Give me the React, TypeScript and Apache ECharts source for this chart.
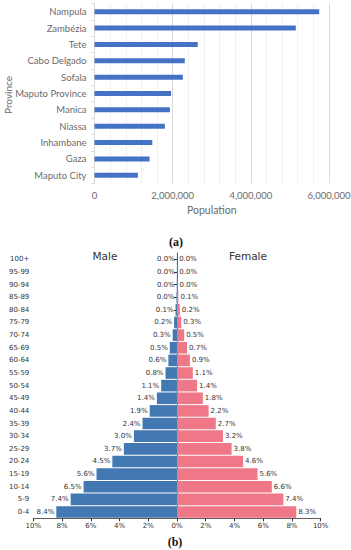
import React, { useEffect, useRef } from "react";
import * as echarts from "echarts";

const provinces = [
  "Nampula", "Zambézia", "Tete", "Cabo Delgado", "Sofala", "Maputo Province",
  "Manica", "Niassa", "Inhambane", "Gaza", "Maputo City",
];
const provincePopulation = [
  5750000, 5150000, 2640000, 2310000, 2260000, 1960000,
  1930000, 1800000, 1480000, 1410000, 1110000,
];
const populationTicks = [0, 2000000, 4000000, 6000000];

const ageGroups = [
  "100+", "95-99", "90-94", "85-89", "80-84", "75-79", "70-74", "65-69", "60-64",
  "55-59", "50-54", "45-49", "40-44", "35-39", "30-34", "25-29", "20-24", "15-19",
  "10-14", "5-9", "0-4",
];
const malePct = [
  0.01, 0.01, 0.02, 0.04, 0.1, 0.2, 0.3, 0.5, 0.6, 0.8, 1.1, 1.4, 1.9, 2.4, 3.0,
  3.7, 4.5, 5.6, 6.5, 7.4, 8.4,
];
const femalePct = [
  0.01, 0.02, 0.04, 0.1, 0.2, 0.3, 0.5, 0.7, 0.9, 1.1, 1.4, 1.8, 2.2, 2.7, 3.2,
  3.8, 4.6, 5.6, 6.6, 7.4, 8.3,
];
const pctTicks = [-10, -8, -6, -4, -2, 0, 2, 4, 6, 8, 10];

const GOTHIC = "Lato, 'Open Sans', sans-serif";
const DEJAVU = "'DejaVu Sans', sans-serif";

export default function App() {
  const ref = useRef<HTMLDivElement>(null);
  useEffect(() => {
    document.body.style.margin = "0";
    const chart = echarts.init(ref.current!, null, { renderer: "svg" });
    const fmtPop = (v: number) => v.toLocaleString("en-US");
    chart.setOption({
      animation: false,
      backgroundColor: "#ffffff",
      grid: [
        { left: 94.5, right: 22, top: 3.5, height: 180, containLabel: false, outerBoundsMode: "none" },
        { left: 33.3, right: 30.3, top: 253, height: 265.3, containLabel: false, outerBoundsMode: "none" },
      ],
      xAxis: [
        {
          gridIndex: 0,
          type: "value",
          min: populationTicks[0],
          max: populationTicks[populationTicks.length - 1],
          interval: 2000000,
          name: "Population",
          nameLocation: "middle",
          nameGap: 21,
          nameTextStyle: { color: "#6b6b6b", fontSize: 10.5, fontFamily: GOTHIC },
          axisLine: { show: false },
          axisTick: { show: false },
          axisLabel: { color: "#6b6b6b", fontSize: 9.5, fontFamily: GOTHIC, formatter: fmtPop, margin: 7 },
          splitLine: { show: true, lineStyle: { color: "#d9d9d9", width: 1 } },
          minorTick: { show: false, splitNumber: 5 },
          minorSplitLine: { show: true, lineStyle: { color: "#f0f0f0", width: 1 } },
        },
        {
          gridIndex: 1,
          type: "value",
          min: pctTicks[0],
          max: pctTicks[pctTicks.length - 1],
          interval: 2,
          axisLine: { show: true, lineStyle: { color: "#333333", width: 0.8 } },
          axisTick: { show: true, length: 3, lineStyle: { color: "#333333" } },
          axisLabel: {
            color: "#333333", fontSize: 7, fontFamily: DEJAVU, margin: 4,
            formatter: (v: number) => Math.abs(v) + "%",
          },
          splitLine: { show: false },
        },
      ],
      yAxis: [
        {
          gridIndex: 0,
          type: "category",
          data: provinces,
          inverse: true,
          axisLine: { show: true, lineStyle: { color: "#d9d9d9" } },
          axisTick: { show: true, length: 3, lineStyle: { color: "#d9d9d9" } },
          axisLabel: { color: "#6b6b6b", fontSize: 9.5, fontFamily: GOTHIC, margin: 8 },
        },
        {
          gridIndex: 1,
          type: "category",
          data: ageGroups,
          inverse: true,
          axisLine: { show: true, lineStyle: { color: "#333333", width: 0.8 } },
          axisTick: { show: true, length: 3, alignWithLabel: true, lineStyle: { color: "#333333" } },
          axisLabel: { color: "#333333", fontSize: 7, fontFamily: DEJAVU, margin: 4 },
        },
      ],
      series: [
        {
          type: "bar",
          xAxisIndex: 0,
          yAxisIndex: 0,
          data: provincePopulation,
          barWidth: 5,
          itemStyle: { color: "#4472c4" },
        },
        {
          name: "Male",
          type: "bar",
          xAxisIndex: 1,
          yAxisIndex: 1,
          stack: "pop",
          data: malePct.map((v) => -v),
          barCategoryGap: "8%",
          itemStyle: { color: "#4379b2" },
          label: {
            show: true,
            position: "left",
            distance: 2,
            fontSize: 7,
            fontFamily: DEJAVU,
            color: "#333333",
            formatter: (p: any) => Math.abs(p.value).toFixed(1) + "%",
          },
        },
        {
          name: "Female",
          type: "bar",
          xAxisIndex: 1,
          yAxisIndex: 1,
          stack: "pop",
          data: femalePct,
          barCategoryGap: "8%",
          itemStyle: { color: "#ef7888" },
          label: {
            show: true,
            position: "right",
            distance: 2,
            fontSize: 7,
            fontFamily: DEJAVU,
            color: "#333333",
            formatter: (p: any) => Number(p.value).toFixed(1) + "%",
          },
        },
      ],
      graphic: [
        {
          type: "text", x: 7.5, y: 95, rotation: Math.PI / 2,
          style: { text: "Province", fontSize: 10, fontFamily: GOTHIC, fill: "#6b6b6b", align: "center", verticalAlign: "middle" },
        },
        {
          type: "text", x: 105, y: 256,
          style: { text: "Male", fontSize: 10.5, fontFamily: DEJAVU, fill: "#333333", align: "center", verticalAlign: "middle" },
        },
        {
          type: "text", x: 248, y: 256,
          style: { text: "Female", fontSize: 10.5, fontFamily: DEJAVU, fill: "#333333", align: "center", verticalAlign: "middle" },
        },
        {
          type: "text", x: 176, y: 242,
          style: { text: "(a)", fontSize: 12, fontFamily: "'Liberation Serif', serif", fontWeight: "bold", fill: "#111111", align: "center", verticalAlign: "middle" },
        },
        {
          type: "text", x: 175, y: 542,
          style: { text: "(b)", fontSize: 12, fontFamily: "'Liberation Serif', serif", fontWeight: "bold", fill: "#111111", align: "center", verticalAlign: "middle" },
        },
      ],
    });
    return () => chart.dispose();
  }, []);
  return <div ref={ref} style={{ width: 351, height: 550 }} />;
}
